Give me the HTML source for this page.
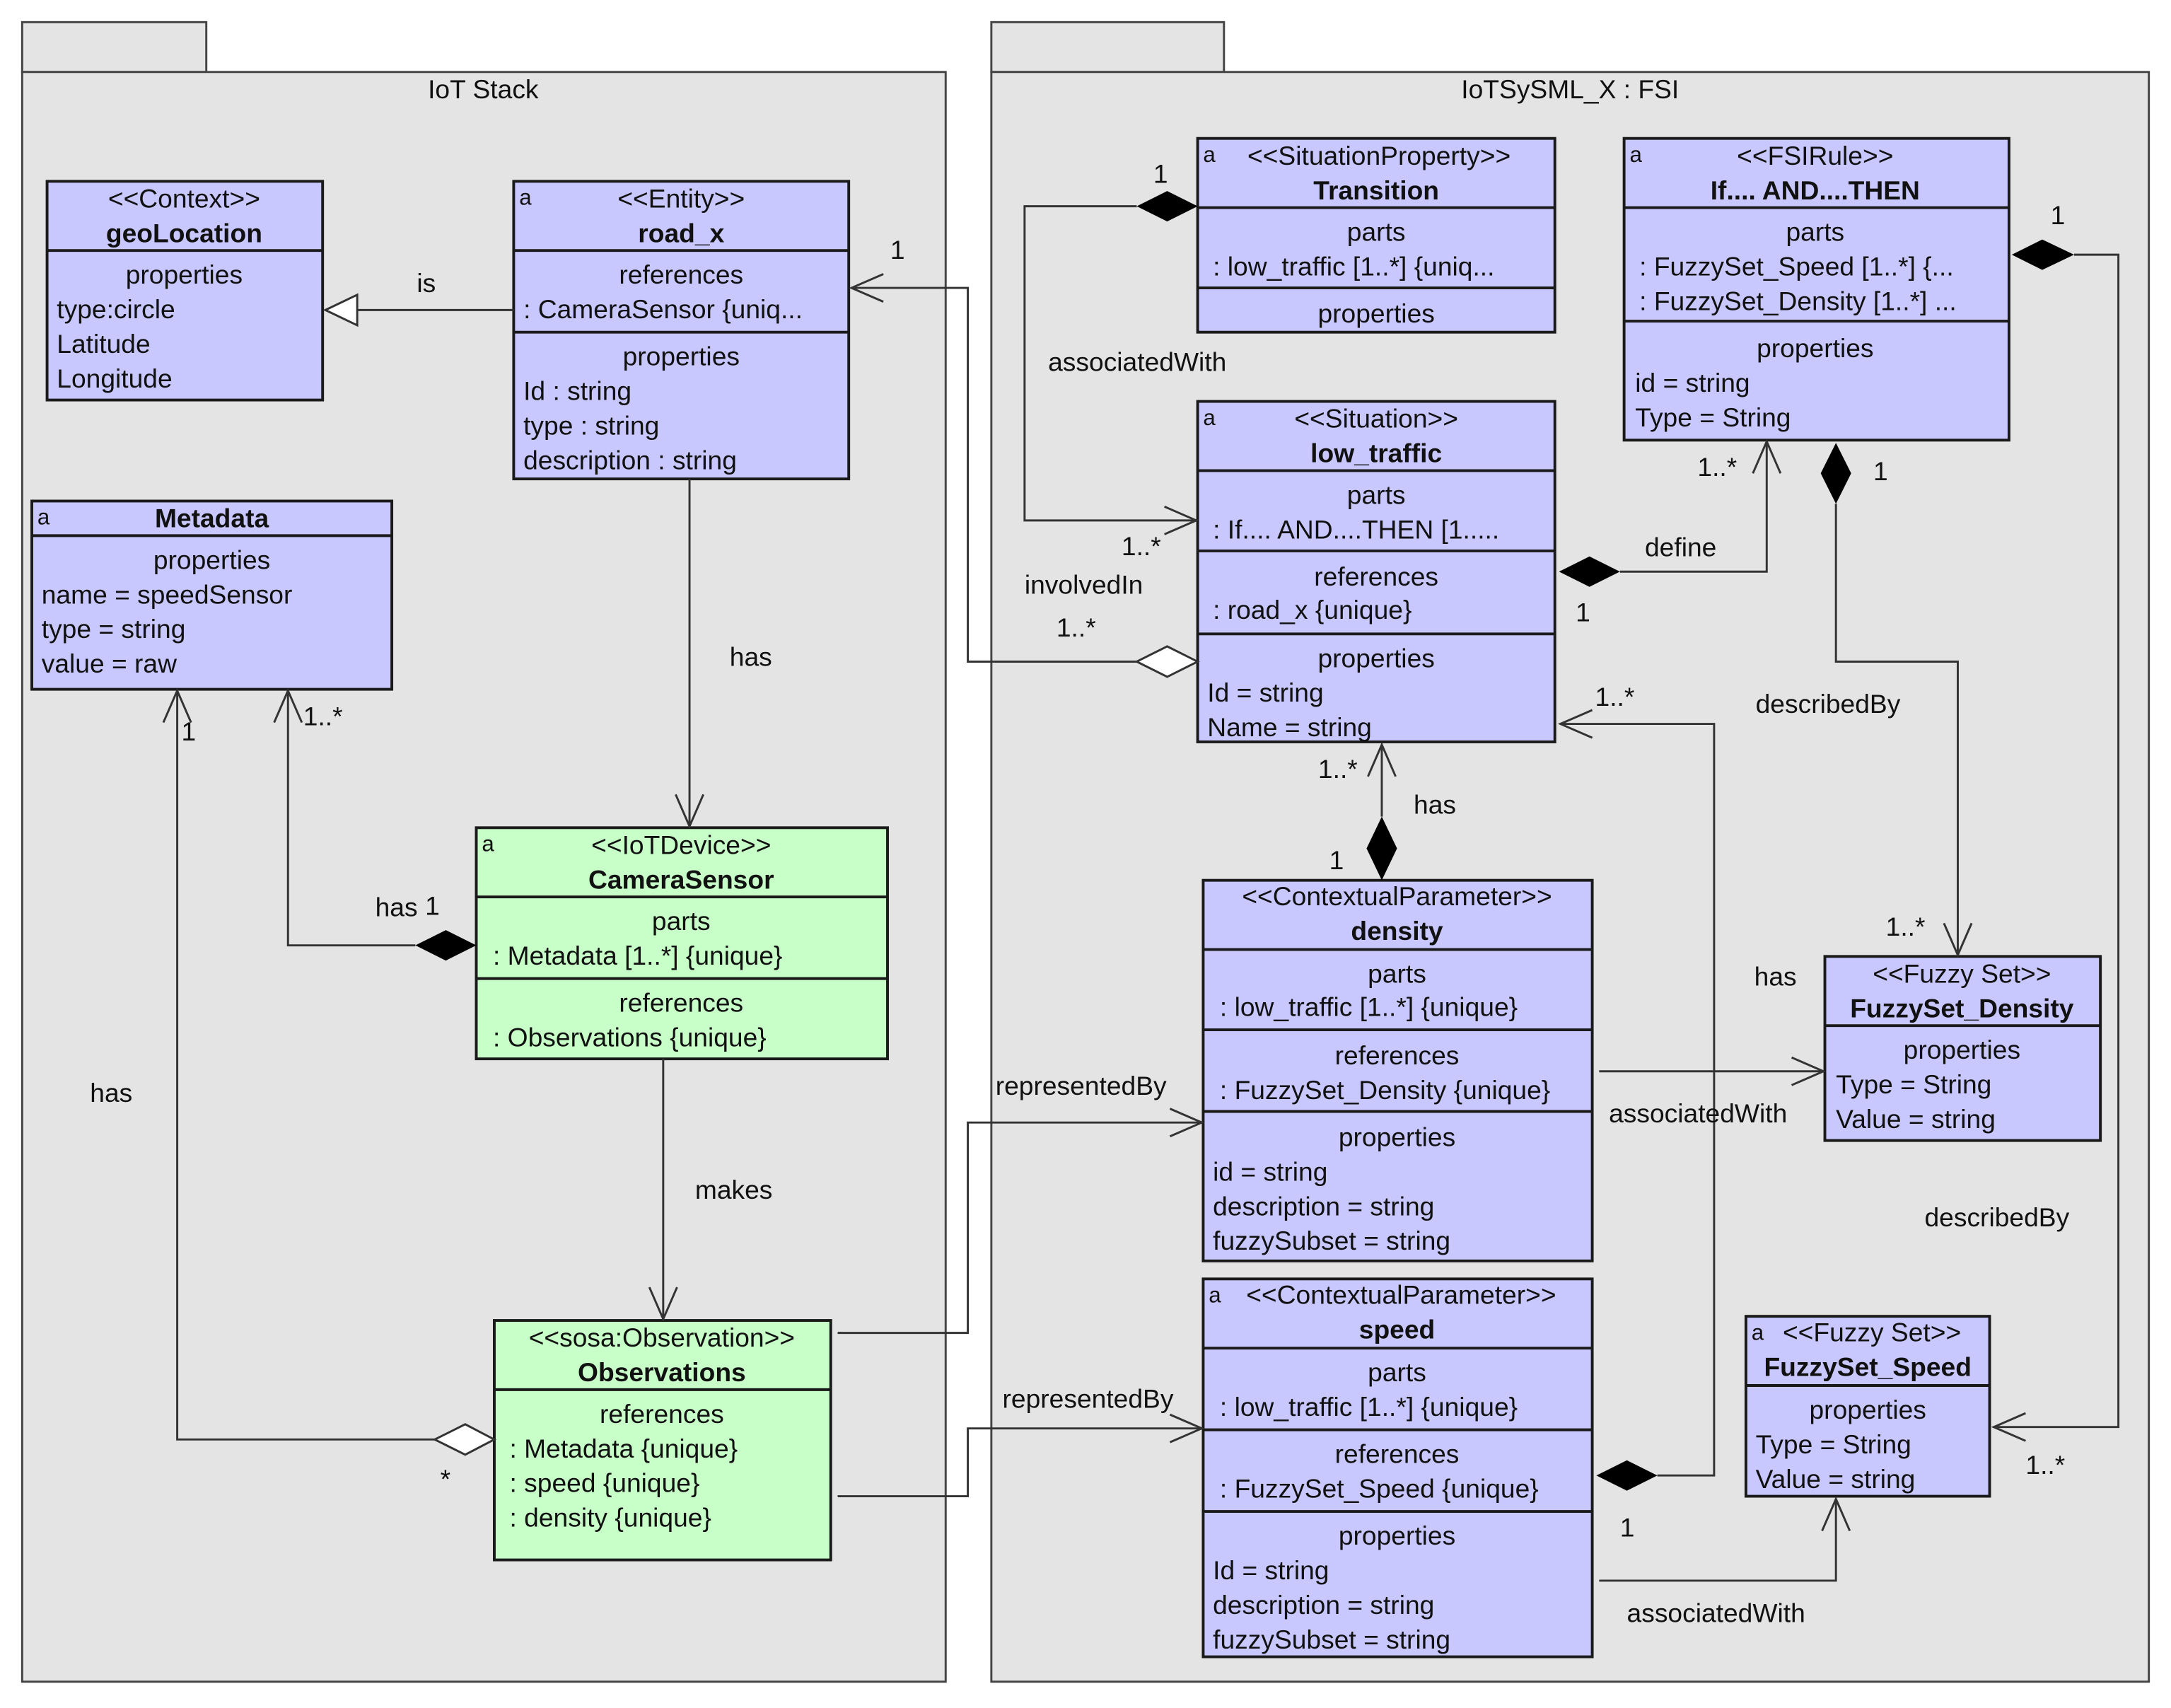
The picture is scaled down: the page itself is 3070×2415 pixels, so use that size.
<!DOCTYPE html>
<html><head><meta charset="utf-8">
<style>
html,body{margin:0;padding:0;background:#fff;}
svg{display:block;}
text{font-family:"Liberation Sans","DejaVu Sans",sans-serif;font-size:19px;fill:#111;}
.b{font-weight:bold;}
.c{text-anchor:middle;}
.box{fill:#c8c8ff;stroke:#1a1a1a;stroke-width:2;}
.gbox{fill:#c8ffc8;stroke:#1a1a1a;stroke-width:2;}
.dv{stroke:#1a1a1a;stroke-width:2;}
.ln{fill:none;stroke:#333;stroke-width:1.5;}
.pk{fill:#e4e4e4;stroke:#444;stroke-width:1.5;}
.ic{font-size:16px;}
</style></head><body>
<svg width="3070" height="2415" viewBox="0 0 1568 1234" preserveAspectRatio="none" xmlns="http://www.w3.org/2000/svg">
<rect x="0" y="0" width="1568" height="1234" fill="#fff"/>
<!-- packages -->
<rect class="pk" x="16" y="16" width="133" height="36"/>
<rect class="pk" x="16" y="52" width="667" height="1163"/>
<text class="c" x="349" y="71">IoT Stack</text>
<rect class="pk" x="716" y="16" width="168" height="36"/>
<rect class="pk" x="716" y="52" width="836" height="1163"/>
<text class="c" x="1134" y="71">IoTSySML_X : FSI</text>

<!-- geoLocation -->
<rect class="box" x="34" y="131" width="199" height="158"/>
<line class="dv" x1="34" y1="181" x2="233" y2="181"/>
<text class="c" x="133" y="150">&lt;&lt;Context&gt;&gt;</text>
<text class="c b" x="133" y="175">geoLocation</text>
<text class="c" x="133" y="205">properties</text>
<text x="41" y="230">type:circle</text>
<text x="41" y="255">Latitude</text>
<text x="41" y="280">Longitude</text>

<!-- road_x -->
<rect class="box" x="371" y="131" width="242" height="215"/>
<line class="dv" x1="371" y1="181" x2="613" y2="181"/>
<line class="dv" x1="371" y1="240" x2="613" y2="240"/>
<text class="ic" x="375" y="148">a</text>
<text class="c" x="492" y="150">&lt;&lt;Entity&gt;&gt;</text>
<text class="c b" x="492" y="175">road_x</text>
<text class="c" x="492" y="205">references</text>
<text x="378" y="230">: CameraSensor {uniq...</text>
<text class="c" x="492" y="264">properties</text>
<text x="378" y="289">Id : string</text>
<text x="378" y="314">type : string</text>
<text x="378" y="339">description : string</text>

<!-- Metadata -->
<rect class="box" x="23" y="362" width="260" height="136"/>
<line class="dv" x1="23" y1="387" x2="283" y2="387"/>
<text class="ic" x="27" y="379">a</text>
<text class="c b" x="153" y="381">Metadata</text>
<text class="c" x="153" y="411">properties</text>
<text x="30" y="436">name = speedSensor</text>
<text x="30" y="461">type = string</text>
<text x="30" y="486">value = raw</text>

<!-- CameraSensor -->
<rect class="gbox" x="344" y="598" width="297" height="167"/>
<line class="dv" x1="344" y1="648" x2="641" y2="648"/>
<line class="dv" x1="344" y1="707" x2="641" y2="707"/>
<text class="ic" x="348" y="615">a</text>
<text class="c" x="492" y="617">&lt;&lt;IoTDevice&gt;&gt;</text>
<text class="c b" x="492" y="642">CameraSensor</text>
<text class="c" x="492" y="672">parts</text>
<text x="356" y="697">: Metadata [1..*] {unique}</text>
<text class="c" x="492" y="731">references</text>
<text x="356" y="756">: Observations {unique}</text>

<!-- Observations -->
<rect class="gbox" x="357" y="954" width="243" height="173"/>
<line class="dv" x1="357" y1="1004" x2="600" y2="1004"/>
<text class="c" x="478" y="973">&lt;&lt;sosa:Observation&gt;&gt;</text>
<text class="c b" x="478" y="998">Observations</text>
<text class="c" x="478" y="1028">references</text>
<text x="368" y="1053">: Metadata {unique}</text>
<text x="368" y="1078">: speed {unique}</text>
<text x="368" y="1103">: density {unique}</text>

<!-- Transition -->
<rect class="box" x="865" y="100" width="258" height="140"/>
<line class="dv" x1="865" y1="150" x2="1123" y2="150"/>
<line class="dv" x1="865" y1="208" x2="1123" y2="208"/>
<text class="ic" x="869" y="117">a</text>
<text class="c" x="996" y="119">&lt;&lt;SituationProperty&gt;&gt;</text>
<text class="c b" x="994" y="144">Transition</text>
<text class="c" x="994" y="174">parts</text>
<text x="876" y="199">: low_traffic [1..*] {uniq...</text>
<text class="c" x="994" y="233">properties</text>

<!-- FSIRule -->
<rect class="box" x="1173" y="100" width="278" height="218"/>
<line class="dv" x1="1173" y1="150" x2="1451" y2="150"/>
<line class="dv" x1="1173" y1="232" x2="1451" y2="232"/>
<text class="ic" x="1177" y="117">a</text>
<text class="c" x="1311" y="119">&lt;&lt;FSIRule&gt;&gt;</text>
<text class="c b" x="1311" y="144">If.... AND....THEN</text>
<text class="c" x="1311" y="174">parts</text>
<text x="1184" y="199">: FuzzySet_Speed [1..*] {...</text>
<text x="1184" y="224">: FuzzySet_Density [1..*] ...</text>
<text class="c" x="1311" y="258">properties</text>
<text x="1181" y="283">id = string</text>
<text x="1181" y="308">Type = String</text>

<!-- low_traffic -->
<rect class="box" x="865" y="290" width="258" height="246"/>
<line class="dv" x1="865" y1="340" x2="1123" y2="340"/>
<line class="dv" x1="865" y1="398" x2="1123" y2="398"/>
<line class="dv" x1="865" y1="458" x2="1123" y2="458"/>
<text class="ic" x="869" y="307">a</text>
<text class="c" x="994" y="309">&lt;&lt;Situation&gt;&gt;</text>
<text class="c b" x="994" y="334">low_traffic</text>
<text class="c" x="994" y="364">parts</text>
<text x="876" y="389">: If.... AND....THEN [1.....</text>
<text class="c" x="994" y="423">references</text>
<text x="876" y="447">: road_x {unique}</text>
<text class="c" x="994" y="482">properties</text>
<text x="872" y="507">Id = string</text>
<text x="872" y="532">Name = string</text>

<!-- density -->
<rect class="box" x="869" y="636" width="281" height="275"/>
<line class="dv" x1="869" y1="686" x2="1150" y2="686"/>
<line class="dv" x1="869" y1="744" x2="1150" y2="744"/>
<line class="dv" x1="869" y1="803" x2="1150" y2="803"/>
<text class="c" x="1009" y="654">&lt;&lt;ContextualParameter&gt;&gt;</text>
<text class="c b" x="1009" y="679">density</text>
<text class="c" x="1009" y="710">parts</text>
<text x="881" y="734">: low_traffic [1..*] {unique}</text>
<text class="c" x="1009" y="769">references</text>
<text x="881" y="794">: FuzzySet_Density {unique}</text>
<text class="c" x="1009" y="828">properties</text>
<text x="876" y="853">id = string</text>
<text x="876" y="878">description = string</text>
<text x="876" y="903">fuzzySubset = string</text>

<!-- speed -->
<rect class="box" x="869" y="924" width="281" height="273"/>
<line class="dv" x1="869" y1="974" x2="1150" y2="974"/>
<line class="dv" x1="869" y1="1033" x2="1150" y2="1033"/>
<line class="dv" x1="869" y1="1092" x2="1150" y2="1092"/>
<text class="ic" x="873" y="941">a</text>
<text class="c" x="1012" y="942">&lt;&lt;ContextualParameter&gt;&gt;</text>
<text class="c b" x="1009" y="967">speed</text>
<text class="c" x="1009" y="998">parts</text>
<text x="881" y="1023">: low_traffic [1..*] {unique}</text>
<text class="c" x="1009" y="1057">references</text>
<text x="881" y="1082">: FuzzySet_Speed {unique}</text>
<text class="c" x="1009" y="1116">properties</text>
<text x="876" y="1141">Id = string</text>
<text x="876" y="1166">description = string</text>
<text x="876" y="1191">fuzzySubset = string</text>

<!-- FuzzySet_Density -->
<rect class="box" x="1318" y="691" width="199" height="133"/>
<line class="dv" x1="1318" y1="741" x2="1517" y2="741"/>
<text class="c" x="1417" y="710">&lt;&lt;Fuzzy Set&gt;&gt;</text>
<text class="c b" x="1417" y="735">FuzzySet_Density</text>
<text class="c" x="1417" y="765">properties</text>
<text x="1326" y="790">Type = String</text>
<text x="1326" y="815">Value = string</text>

<!-- FuzzySet_Speed -->
<rect class="box" x="1261" y="951" width="176" height="130"/>
<line class="dv" x1="1261" y1="1001" x2="1437" y2="1001"/>
<text class="ic" x="1265" y="968">a</text>
<text class="c" x="1352" y="969">&lt;&lt;Fuzzy Set&gt;&gt;</text>
<text class="c b" x="1349" y="994">FuzzySet_Speed</text>
<text class="c" x="1349" y="1025">properties</text>
<text x="1268" y="1050">Type = String</text>
<text x="1268" y="1075">Value = string</text>

<!-- connectors -->
<!-- is -->
<line class="ln" x1="371" y1="224" x2="258" y2="224"/>
<polygon points="235,224 258,213 258,235" fill="#fff" stroke="#333" stroke-width="1.5"/>
<text x="301" y="211">is</text>
<!-- road_x -> CameraSensor -->
<line class="ln" x1="498" y1="346" x2="498" y2="597"/>
<polyline class="ln" points="488,574 498,597 508,574"/>
<text x="527" y="481">has</text>
<!-- CameraSensor -> Observations -->
<line class="ln" x1="479" y1="765" x2="479" y2="953"/>
<polyline class="ln" points="469,930 479,953 489,930"/>
<text x="502" y="866">makes</text>
<!-- CameraSensor -> Metadata -->
<polyline class="ln" points="300,683 208,683 208,499"/>
<polyline class="ln" points="198,522 208,499 218,522"/>
<polygon points="300,683 322,672 344,683 322,694" fill="#000"/>
<text x="271" y="662">has</text><text x="307" y="661">1</text>
<text x="219" y="524">1..*</text>
<!-- Observations -> Metadata -->
<polyline class="ln" points="314,1040 128,1040 128,499"/>
<polyline class="ln" points="118,522 128,499 138,522"/>
<polygon points="314,1040 336,1029 357,1040 336,1051" fill="#fff" stroke="#333" stroke-width="1.5"/>
<text x="131" y="535">1</text>
<text x="318" y="1075">*</text>
<text x="65" y="796">has</text>
<!-- Observations -> density -->
<polyline class="ln" points="605,963 699,963 699,811 868,811"/>
<polyline class="ln" points="845,801 868,811 845,821"/>
<text x="719" y="791">representedBy</text>
<!-- Observations -> speed -->
<polyline class="ln" points="605,1081 699,1081 699,1032 868,1032"/>
<polyline class="ln" points="845,1022 868,1032 845,1042"/>
<text x="724" y="1017">representedBy</text>
<!-- low_traffic -> road_x -->
<polyline class="ln" points="821,478 699,478 699,208 615,208"/>
<polyline class="ln" points="638,198 615,208 638,218"/>
<polygon points="821,478 843,467 865,478 843,489" fill="#fff" stroke="#333" stroke-width="1.5"/>
<text x="643" y="187">1</text>
<text x="763" y="460">1..*</text>
<text x="740" y="429">involvedIn</text>
<!-- Transition -> low_traffic -->
<polyline class="ln" points="821,149 740,149 740,376 864,376"/>
<polyline class="ln" points="841,366 864,376 841,386"/>
<polygon points="821,149 843,138 865,149 843,160" fill="#000"/>
<text x="833" y="132">1</text>
<text x="757" y="268">associatedWith</text>
<text x="810" y="401">1..*</text>
<!-- low_traffic -> FSIRule define -->
<polyline class="ln" points="1170,413 1276,413 1276,319"/>
<polyline class="ln" points="1266,342 1276,319 1286,342"/>
<polygon points="1126,413 1148,402 1170,413 1148,424" fill="#000"/>
<text x="1188" y="402">define</text>
<text x="1138" y="449">1</text>
<text x="1226" y="344">1..*</text>
<!-- FSIRule -> FuzzySet_Density -->
<polyline class="ln" points="1326,364 1326,478 1414,478 1414,690"/>
<polyline class="ln" points="1404,667 1414,690 1424,667"/>
<polygon points="1326,320 1337,342 1326,364 1315,342" fill="#000"/>
<text x="1353" y="347">1</text>
<text x="1268" y="515">describedBy</text>
<text x="1362" y="676">1..*</text>
<!-- FSIRule -> FuzzySet_Speed -->
<polyline class="ln" points="1498,184 1530,184 1530,1031 1440,1031"/>
<polyline class="ln" points="1463,1021 1440,1031 1463,1041"/>
<polygon points="1453,184 1475,173 1498,184 1475,195" fill="#000"/>
<text x="1481" y="162">1</text>
<text x="1390" y="886">describedBy</text>
<text x="1463" y="1065">1..*</text>
<!-- density -> low_traffic has -->
<line class="ln" x1="998" y1="590" x2="998" y2="538"/>
<polyline class="ln" points="988,561 998,538 1008,561"/>
<polygon points="998,590 1009,613 998,636 987,613" fill="#000"/>
<text x="952" y="562">1..*</text>
<text x="1021" y="588">has</text>
<text x="960" y="628">1</text>
<!-- density -> FuzzySet_Density -->
<line class="ln" x1="1155" y1="774" x2="1317" y2="774"/>
<polyline class="ln" points="1294,764 1317,774 1294,784"/>
<text x="1267" y="712">has</text>
<!-- speed -> low_traffic -->
<polyline class="ln" points="1197,1066 1238,1066 1238,523 1127,523"/>
<polyline class="ln" points="1150,513 1127,523 1150,533"/>
<polygon points="1153,1066 1175,1055 1197,1066 1175,1077" fill="#000"/>
<text x="1152" y="510">1..*</text>
<text x="1162" y="811">associatedWith</text>
<text x="1170" y="1110">1</text>
<!-- speed -> FuzzySet_Speed -->
<polyline class="ln" points="1155,1142 1326,1142 1326,1083"/>
<polyline class="ln" points="1316,1106 1326,1083 1336,1106"/>
<text x="1175" y="1172">associatedWith</text>
</svg>
</body></html>
